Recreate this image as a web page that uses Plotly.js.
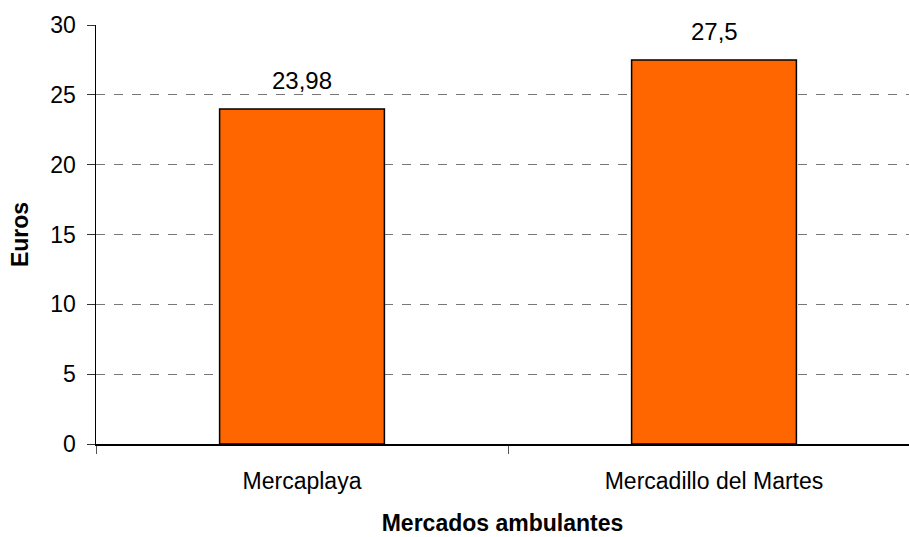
<!DOCTYPE html>
<html>
<head>
<meta charset="utf-8">
<script src="https://cdn.plot.ly/plotly-3.0.1.min.js"></script>
<style>html,body{margin:0;padding:0;background:#fff;overflow:hidden}</style>
</head>
<body>
<div id="chart" style="width:909px;height:537px"></div>
<script>
const categories = ["Mercaplaya", "Mercadillo del Martes"];
const values = [23.98, 27.5];
const labels = ["23,98", "27,5"];
const yTicks = [0, 5, 10, 15, 20, 25, 30];
const gridTicks = [5, 10, 15, 20, 25];

const FONT = "Liberation Sans, Arial, sans-serif";

const trace = {
  type: "bar",
  x: categories,
  y: values,
  width: 0.4,
  marker: {color: "#FF6600", line: {color: "#000", width: 1.5}},
  hoverinfo: "none"
};

// invisible helper trace so the overlay axis (darker gridlines) is drawn
const gridTrace = {
  type: "scatter", mode: "markers",
  x: categories, y: values,
  xaxis: "x", yaxis: "y2",
  marker: {opacity: 0}, hoverinfo: "none"
};

const annotations = categories.map((c, i) => ({
  x: c, y: values[i], xref: "x", yref: "y",
  text: labels[i], showarrow: false,
  yanchor: "bottom", yshift: 13,
  font: {family: FONT, size: 24, color: "#000"}
}));

const layout = {
  width: 909, height: 537,
  margin: {l: 96, r: 0, t: 25, b: 93},
  paper_bgcolor: "#fff", plot_bgcolor: "#fff",
  font: {family: FONT, size: 24, color: "#000"},
  showlegend: false,
  annotations: annotations,
  xaxis: {
    type: "category",
    range: [-0.5, 1.5 - 11/412],
    showline: true, linecolor: "#000", linewidth: 1.5,
    ticks: "outside", tickson: "boundaries", ticklen: 8, tickcolor: "#555",
    ticklabelstandoff: 16,
    showgrid: false, zeroline: false,
    tickfont: {size: 23},
    title: {text: "<b>Mercados ambulantes</b>", font: {size: 23}, standoff: 22},
    automargin: false
  },
  yaxis: {
    range: [0, 30],
    tickvals: yTicks,
    showline: true, linecolor: "#000", linewidth: 1.5,
    ticks: "outside", ticklen: 8, tickcolor: "#333",
    ticklabelstandoff: 6,
    showgrid: true, gridcolor: "#e6e6e6", griddash: "dash", gridwidth: 1,
    zeroline: false,
    tickfont: {size: 23},
    title: {text: "<b>Euros</b>", font: {size: 23}, standoff: 15},
    automargin: false
  },
  yaxis2: {
    overlaying: "y", side: "left",
    range: [0, 30],
    tickvals: gridTicks,
    showticklabels: false, ticks: "",
    showline: false, zeroline: false,
    showgrid: true, gridcolor: "#777", griddash: "dash", gridwidth: 1
  }
};

Plotly.newPlot("chart", [gridTrace, trace], layout, {displayModeBar: false, staticPlot: true});
</script>
</body>
</html>
